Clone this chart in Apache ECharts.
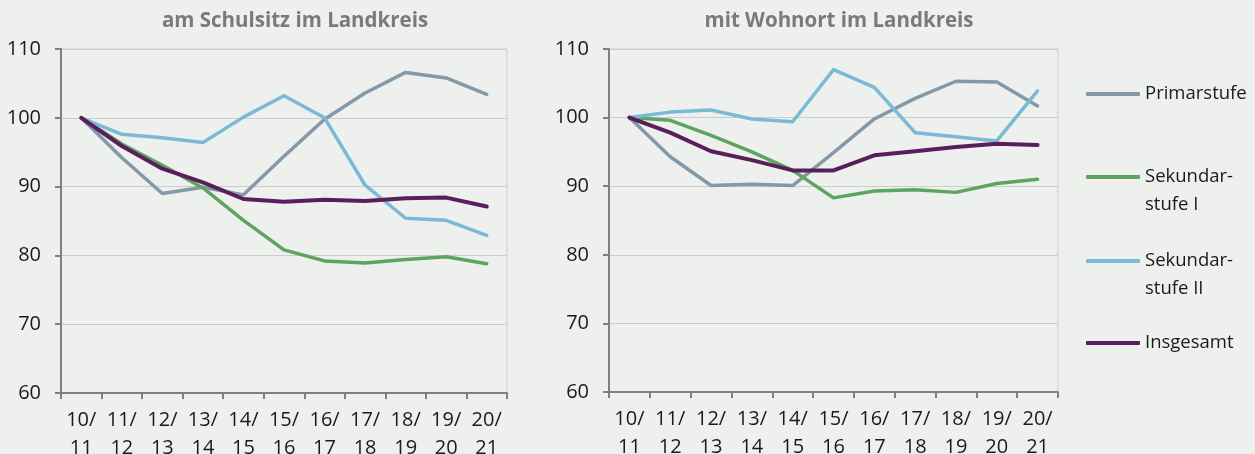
<!DOCTYPE html>
<html>
<head>
<meta charset="utf-8">
<script src="https://cdn.jsdelivr.net/npm/echarts@6/dist/echarts.min.js"></script>
<style>
html,body{margin:0;padding:0;background:#eef0ee;}
#chart{width:1255px;height:454px;}
</style>
</head>
<body>
<div id="chart"></div>
<script>
const categories = ['10/\n11','11/\n12','12/\n13','13/\n14','14/\n15','15/\n16','16/\n17','17/\n18','18/\n19','19/\n20','20/\n21'];
const yTicks = [60, 70, 80, 90, 100, 110];
const panelTitles = ['am Schulsitz im Landkreis', 'mit Wohnort im Landkreis'];
const seriesNames = ['Primarstufe', 'Sekundarstufe I', 'Sekundarstufe II', 'Insgesamt'];
const legendLabels = ['Primarstufe', '\nSekundar-\nstufe I', '\nSekundar-\nstufe II', 'Insgesamt'];

const schulPrimar  = [100, 94.2, 89.0, 89.9, 88.8, 94.4, 99.8, 103.6, 106.6, 105.8, 103.4];
const schulSek1    = [100, 96.2, 93.1, 89.8, 85.1, 80.8, 79.2, 78.9, 79.4, 79.8, 78.8];
const schulSek2    = [100, 97.6, 97.1, 96.4, 100.1, 103.2, 100.0, 90.2, 85.4, 85.1, 82.9];
const schulGesamt  = [100, 95.9, 92.6, 90.6, 88.2, 87.8, 88.1, 87.9, 88.3, 88.4, 87.1];

const wohnPrimar   = [100, 94.3, 90.1, 90.3, 90.1, 94.9, 99.8, 102.8, 105.3, 105.2, 101.7];
const wohnSek1     = [100, 99.6, 97.4, 95.0, 92.3, 88.3, 89.3, 89.5, 89.1, 90.4, 91.0];
const wohnSek2     = [100, 100.8, 101.1, 99.8, 99.4, 107.0, 104.4, 97.8, 97.2, 96.6, 103.9];
const wohnGesamt   = [100, 97.8, 95.1, 93.8, 92.3, 92.3, 94.5, 95.1, 95.7, 96.2, 96.0];

const colors = ['#8399a7', '#5da55f', '#7bbad6', '#5b1e5d'];
const widths = [3.5, 3.5, 3.5, 4];
const FONT = 'Open Sans';

const panels = [
  [schulPrimar, schulSek1, schulSek2, schulGesamt],
  [wohnPrimar, wohnSek1, wohnSek2, wohnGesamt]
];
const grids = [
  {left: 61, top: 49, width: 446, height: 344},
  {left: 609, top: 49, width: 449, height: 343}
];
const titleCenters = [295, 839];

const chart = echarts.init(document.getElementById('chart'), null, {renderer: 'canvas'});

const axisGrey = '#808080';
const series = [];
panels.forEach((panel, p) => {
  panel.forEach((vals, i) => {
    series.push({
      name: seriesNames[i], type: 'line', xAxisIndex: p, yAxisIndex: p,
      data: vals, showSymbol: false, symbol: 'none', smooth: false,
      lineStyle: {color: colors[i], width: widths[i], cap: 'round', join: 'round'},
      itemStyle: {color: colors[i]},
      emphasis: {disabled: true}, animation: false
    });
  });
});

const LH = 28;
const legendCenters = [94, 177, 261, 343];
const legends = seriesNames.map((n, i) => {
  const lines = legendLabels[i].split('\n').length;
  return {
    data: [n], left: 1086, top: legendCenters[i] - lines * LH / 2,
    orient: 'vertical', padding: 0,
    icon: 'roundRect', itemWidth: 54, itemHeight: 4,
    formatter: () => legendLabels[i],
    textStyle: {fontFamily: FONT, fontSize: 18.5, lineHeight: LH, color: '#1a1a1a'},
    selectedMode: false
  };
});

chart.setOption({
  backgroundColor: '#eef0ee',
  animation: false,
  textStyle: {fontFamily: FONT},
  title: panelTitles.map((t, i) => ({
    text: t, left: titleCenters[i], top: 11, textAlign: 'center', padding: 0,
    textStyle: {fontFamily: FONT, fontSize: 20.5, fontWeight: 'bold', color: '#7a7a7a'}
  })),
  legend: legends,
  grid: grids.map(g => Object.assign({show: true, borderColor: '#cccccc', borderWidth: 1, backgroundColor: 'transparent', containLabel: false, outerBoundsMode: 'none'}, g)),
  xAxis: grids.map((g, i) => ({
    type: 'category', gridIndex: i, data: categories, boundaryGap: true,
    axisLine: {lineStyle: {color: axisGrey, width: 2}},
    axisTick: {show: true, interval: 0, length: 6, lineStyle: {color: axisGrey, width: 2}},
    axisLabel: {interval: 0, margin: 13, fontFamily: FONT, fontSize: 20, lineHeight: LH, color: '#1a1a1a'},
    splitLine: {show: false}
  })),
  yAxis: grids.map((g, i) => ({
    type: 'value', gridIndex: i, min: yTicks[0], max: yTicks[yTicks.length - 1], interval: 10,
    axisLine: {show: true, lineStyle: {color: axisGrey, width: 2}},
    axisTick: {show: true, length: 6, lineStyle: {color: axisGrey, width: 2}},
    axisLabel: {margin: 20, fontFamily: FONT, fontSize: 20, color: '#1a1a1a'},
    splitLine: {show: true, lineStyle: {color: '#cccccc', width: 1}}
  })),
  series: series
});
</script>
</body>
</html>
